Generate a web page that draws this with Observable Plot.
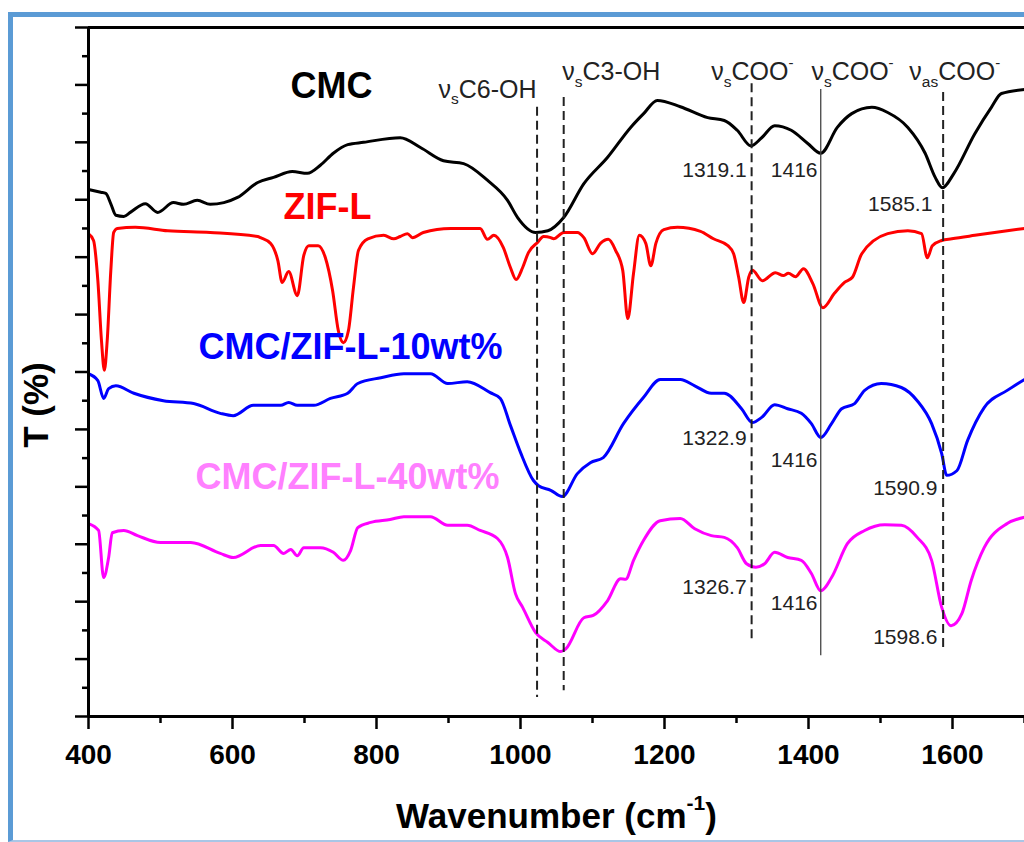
<!DOCTYPE html>
<html><head><meta charset="utf-8">
<script src="https://cdn.jsdelivr.net/npm/d3@7"></script>
<script src="https://cdn.jsdelivr.net/npm/@observablehq/plot@0.6"></script>
<style>
html,body{margin:0;padding:0;background:#fff;overflow:hidden;width:1024px;height:842px;}
#chart{position:absolute;left:0;top:0;}
#frame{position:absolute;left:8px;top:12px;width:1030px;height:823px;border-left:5px solid #5b9bd5;border-top:5px solid #5b9bd5;border-bottom:2px solid #a9c6e6;pointer-events:none;}
</style></head>
<body><div id="chart"></div><div id="frame"></div>
<script>
// ---- Data (wavenumber cm-1, transmittance offset units) ----
const cmc = [[400,91.8],[417,91.3],[424,91.1],[431,89.3],[438,87.3],[449,87.1],[458,87.8],[479,89.3],[496,87.8],[518,89.5],[532,89.2],[551,89.9],[569,89.2],[588,89.5],[607,90.4],[635,93.0],[657,93.9],[683,94.9],[704,94.6],[722,96.0],[740,98.1],[760,99.6],[782,100.0],[833,100.8],[861,99.1],[893,96.8],[921,96.3],[954,93.4],[982,89.9],[996,86.9],[1021,84.3],[1038,84.6],[1060,86.9],[1088,92.8],[1121,97.4],[1153,102.6],[1171,105.0],[1190,107.3],[1222,106.2],[1260,104.3],[1283,103.8],[1301,102.1],[1320,99.4],[1335,100.8],[1353,102.9],[1376,102.1],[1399,99.8],[1417,98.1],[1440,102.6],[1460,105.0],[1488,106.1],[1510,105.2],[1538,102.6],[1562,98.1],[1576,93.9],[1586,92.1],[1602,94.6],[1631,101.5],[1654,106.1],[1668,108.5],[1700,109.2]];

const zifL = [[400,84.1],[407,82.9],[413,75.9],[418,65.5],[422,60.3],[426,65.5],[431,77.7],[435,84.3],[440,85.0],[465,85.2],[510,84.6],[569,84.3],[635,83.6],[639,83.4],[653,82.4],[663,79.4],[669,75.6],[678,77.5],[690,73.3],[699,80.3],[706,82.0],[719,82.0],[729,79.9],[739,74.2],[747,67.2],[754,65.1],[761,67.2],[768,74.7],[775,81.2],[788,83.2],[810,83.8],[824,83.2],[833,83.6],[843,84.1],[850,83.4],[865,84.3],[903,85.0],[944,85.0],[954,83.1],[963,83.8],[976,81.7],[986,78.2],[994,76.1],[1003,78.2],[1011,80.8],[1024,82.6],[1032,83.6],[1042,83.4],[1046,83.2],[1060,84.3],[1079,84.3],[1088,83.4],[1100,80.6],[1111,82.4],[1122,83.1],[1132,81.2],[1142,77.7],[1149,69.3],[1157,77.2],[1165,83.8],[1174,82.4],[1181,78.5],[1188,82.4],[1199,84.8],[1218,85.2],[1250,84.5],[1268,83.2],[1288,82.0],[1296,80.6],[1303,76.5],[1310,72.1],[1317,76.5],[1322,77.7],[1336,75.9],[1354,77.3],[1365,76.8],[1372,77.2],[1382,76.6],[1393,78.0],[1406,75.4],[1420,71.2],[1436,73.7],[1450,75.6],[1461,76.5],[1474,80.6],[1510,84.1],[1538,84.6],[1557,84.1],[1565,79.9],[1572,82.0],[1585,82.9],[1599,83.2],[1631,83.8],[1676,84.6],[1700,85.0]];

const zif10 = [[400,59.7],[413,58.5],[421,55.4],[428,57.1],[438,57.6],[463,56.3],[504,55.0],[546,54.5],[583,52.8],[601,52.4],[629,54.2],[667,54.2],[678,54.7],[690,54.2],[713,54.2],[736,55.4],[760,56.3],[774,58.0],[806,59.0],[838,59.7],[875,59.7],[899,58.0],[926,58.3],[958,56.4],[972,55.4],[986,50.7],[1000,46.0],[1018,41.1],[1025,40.2],[1042,39.4],[1058,38.3],[1079,42.3],[1097,44.2],[1115,45.1],[1143,51.0],[1171,55.6],[1194,58.7],[1222,58.7],[1242,57.6],[1265,56.3],[1283,56.3],[1307,53.6],[1322,51.2],[1335,52.1],[1353,54.3],[1371,53.6],[1390,52.8],[1404,51.0],[1417,48.6],[1432,51.0],[1446,53.6],[1464,54.5],[1478,56.8],[1501,58.0],[1529,57.3],[1551,55.0],[1571,51.0],[1585,45.8],[1592,42.0],[1606,42.8],[1621,48.1],[1644,53.8],[1676,56.8],[1700,58.7]];

const zif40 = [[400,33.6],[414,32.4],[421,24.2],[428,27.7],[433,32.0],[449,32.4],[468,31.5],[500,30.3],[542,30.3],[583,28.4],[601,27.7],[639,29.8],[657,29.8],[671,28.4],[681,29.1],[690,28.0],[699,29.4],[722,29.4],[740,28.6],[754,27.2],[764,28.9],[774,32.9],[792,33.8],[819,34.3],[838,34.8],[875,34.8],[899,33.3],[926,33.3],[944,32.4],[968,31.0],[982,27.7],[993,21.4],[1003,19.0],[1021,14.6],[1038,12.9],[1056,11.3],[1063,11.8],[1088,17.2],[1101,17.6],[1121,20.2],[1139,24.0],[1146,23.9],[1157,27.2],[1171,30.7],[1194,34.1],[1222,34.5],[1242,32.7],[1265,31.5],[1283,31.2],[1301,29.4],[1314,26.6],[1327,26.0],[1339,26.6],[1353,28.6],[1371,27.7],[1390,27.2],[1404,24.9],[1417,21.9],[1432,24.2],[1454,30.1],[1478,32.4],[1506,33.4],[1529,33.3],[1551,31.2],[1571,27.2],[1585,19.0],[1598,15.8],[1613,17.9],[1626,23.7],[1644,29.4],[1676,33.6],[1700,34.7]];

const seriesNames = ["CMC", "ZIF-L", "CMC/ZIF-L-10wt%", "CMC/ZIF-L-40wt%"];
const seriesLabelX = [680.6, 670.8, 552.8, 548.6];
const seriesLabelY = [107.8, 86.7, 62.2, 39.7];

const bandWave = [1023, 1060, 1321, 1587];
const bandTop = [106.1, 107.8, 110.2, 108.7];
const bandBottom = [3.3, 4.5, 12.9, 11.5];
const refWave = [1417];
const refTop = [109.2];
const refBottom = [10.6];

const bandNames = ["ν_{s}C6-OH", "ν_{s}C3-OH", "ν_{s}COO^{-}", "ν_{s}COO^{-}", "ν_{as}COO^{-}"];
const bandNameX = [886, 1058, 1265, 1404, 1540];
const bandNameY = [107.8, 110.8, 110.8, 110.8, 110.8];

const peakLabels = ["1319.1", "1416", "1585.1", "1322.9", "1416", "1590.9", "1326.7", "1416", "1598.6"];
const peakLabelX = [1314, 1412.5, 1572, 1314, 1412.5, 1579, 1314, 1412.5, 1579];
const peakLabelY = [93.9, 93.9, 88.1, 47.2, 43.4, 38.5, 21.4, 18.5, 12.7];

const xTicks = [400, 600, 800, 1000, 1200, 1400, 1600];
const xMinorTicks = [500, 700, 900, 1100, 1300, 1500, 1700];
const yMajorTicks = [0, 10, 20, 30, 40, 50, 60, 70, 80, 90, 100, 110, 120];
const yMinorTicks = [5, 15, 25, 35, 45, 55, 65, 75, 85, 95, 105, 115];

const xLabel = "Wavenumber (cm^{-1})";
const yLabel = "T (%)";

// ---- styles ----
const lineColors = {"CMC": "#000000", "ZIF-L": "#ff0000", "CMC/ZIF-L-10wt%": "#0000ff", "CMC/ZIF-L-40wt%": "#ff00ff"};
const labelColors = {"CMC": "#000000", "ZIF-L": "#ff0000", "CMC/ZIF-L-10wt%": "#0000ff", "CMC/ZIF-L-40wt%": "#ff80ff"};

const rows = pts => pts.map(([w, t]) => ({w, t}));
const seriesData = [cmc, zifL, zif10, zif40];
const seriesRows = seriesNames.map((name, i) => ({name, x: seriesLabelX[i], y: seriesLabelY[i]}));
const bandRows = bandWave.map((w, i) => ({w, top: bandTop[i], bottom: bandBottom[i]}));
const refRows = refWave.map((w, i) => ({w, top: refTop[i], bottom: refBottom[i]}));
const bandNameRows = bandNames.map((s, i) => ({s, x: bandNameX[i], y: bandNameY[i]}));
const peakRows = peakLabels.map((s, i) => ({s, x: peakLabelX[i], y: peakLabelY[i]}));

const font = "'Liberation Sans', Arial, Helvetica, sans-serif";

const plot = Plot.plot({
  width: 1024,
  height: 842,
  marginLeft: 88,
  marginRight: 0,
  marginTop: 27,
  marginBottom: 126,
  style: {fontFamily: font, background: "transparent", overflow: "visible"},
  x: {domain: [400, 1700]},
  y: {domain: [0, 120]},
  color: {type: "identity"},
  marks: [
    ...seriesData.map((d, i) => Plot.line(rows(d), {x: "w", y: "t", stroke: lineColors[seriesNames[i]], strokeWidth: 3, curve: "monotone-x"})),
    Plot.ruleX(bandRows, {x: "w", y1: "top", y2: "bottom", stroke: "#222", strokeWidth: 2, strokeDasharray: "9,5"}),
    Plot.ruleX(refRows, {x: "w", y1: "top", y2: "bottom", stroke: "#444", strokeWidth: 1.3}),
    Plot.ruleX([400], {stroke: "#000", strokeWidth: 3}),
    Plot.ruleY([0, 120], {stroke: "#000", strokeWidth: 3}),
    Plot.axisX({ticks: xTicks, tickSize: 13, tickPadding: 15, stroke: "#000", strokeWidth: 2.5, fontSize: 28, fontWeight: "bold", fill: "#000", tickFormat: d => String(d), label: null}),
    Plot.axisX({ticks: xMinorTicks, tickSize: 7, stroke: "#000", strokeWidth: 2.5, fill: "none", label: null}),
    Plot.axisY({ticks: yMajorTicks, tickSize: 13, stroke: "#000", strokeWidth: 2.5, fill: "none", label: null}),
    Plot.axisY({ticks: yMinorTicks, tickSize: 6, stroke: "#000", strokeWidth: 2.5, fill: "none", label: null}),
    Plot.text(seriesRows, {x: "x", y: "y", text: "name", fill: d => labelColors[d.name], fontSize: 36, fontWeight: "bold", textAnchor: "start", lineAnchor: "bottom"}),
    Plot.text(bandNameRows, {x: "x", y: "y", text: "s", fill: "#222", fontSize: 25, textAnchor: "start", lineAnchor: "bottom"}),
    Plot.text(peakRows, {x: "x", y: "y", text: "s", fill: "#222", fontSize: 21, textAnchor: "end", lineAnchor: "bottom"}),
    Plot.text([xLabel], {text: d => d, frameAnchor: "bottom", dy: 111, fontSize: 35, fontWeight: "bold", fill: "#000", textAnchor: "middle", lineAnchor: "bottom"}),
    Plot.text([yLabel], {text: d => d, frameAnchor: "left", rotate: -90, dx: -41, dy: 33, fontSize: 35, fontWeight: "bold", fill: "#000", textAnchor: "middle", lineAnchor: "bottom"})
  ]
});

document.getElementById("chart").appendChild(plot);

// rich text: _{...} subscript, ^{...} superscript
d3.select(plot).selectAll("text").each(function () {
  const raw = this.textContent;
  if (!/[_^]\{/.test(raw)) return;
  const fs = parseFloat(getComputedStyle(this).fontSize) || 20;
  this.textContent = "";
  const re = /([_^])\{([^}]*)\}|([^_^]+)/g;
  let m, cur = 0;
  while ((m = re.exec(raw))) {
    let txt, target, size = null;
    if (m[3] !== undefined) { txt = m[3]; target = 0; }
    else if (m[1] === "_") { txt = m[2]; target = 0.26 * fs; size = 0.62 * fs; }
    else { txt = m[2]; target = -0.5 * fs; size = 0.6 * fs; }
    const ts = document.createElementNS("http://www.w3.org/2000/svg", "tspan");
    if (target - cur !== 0) ts.setAttribute("dy", (target - cur).toFixed(2));
    if (size) ts.setAttribute("font-size", size.toFixed(1));
    ts.textContent = txt;
    this.appendChild(ts);
    cur = target;
  }
});
</script>
</body></html>
